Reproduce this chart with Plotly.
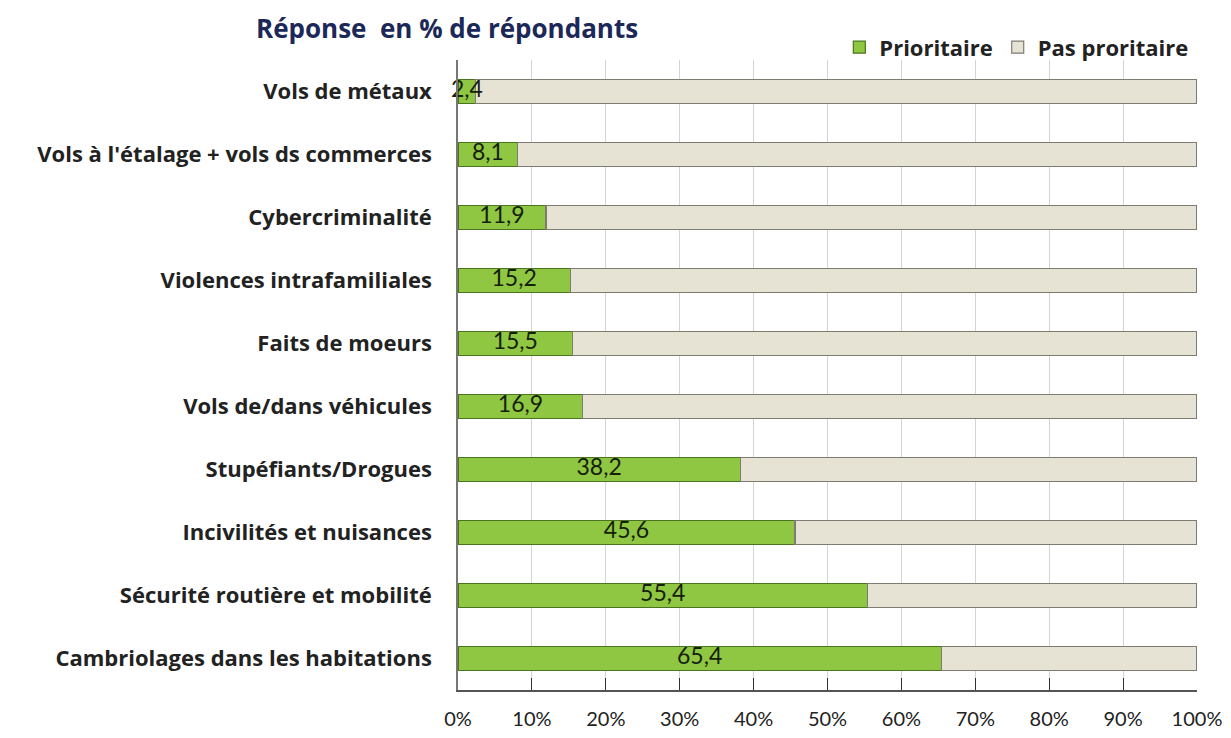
import plotly.graph_objects as go

categories = ["Vols de métaux",
              "Vols à l'étalage + vols ds commerces",
              "Cybercriminalité",
              "Violences intrafamiliales",
              "Faits de moeurs",
              "Vols de/dans véhicules",
              "Stupéfiants/Drogues",
              "Incivilités et nuisances",
              "Sécurité routière et mobilité",
              "Cambriolages dans les habitations"]
prioritaire = [2.4, 8.1, 11.9, 15.2, 15.5, 16.9, 38.2, 45.6, 55.4, 65.4]
pas_prioritaire = [round(100 - v, 1) for v in prioritaire]
labels = ["2,4", "8,1", "11,9", "15,2", "15,5", "16,9", "38,2", "45,6", "55,4", "65,4"]
tick_vals = [0, 10, 20, 30, 40, 50, 60, 70, 80, 90, 100]
tick_text = ["0%", "10%", "20%", "30%", "40%", "50%", "60%", "70%", "80%", "90%", "100%"]

fig = go.Figure()
fig.add_trace(go.Bar(y=categories, x=prioritaire, orientation="h",
                     name="Prioritaire",
                     marker=dict(color="#8FC743", line=dict(color="#4A7420", width=1.2)),
                     hoverinfo="skip"))
fig.add_trace(go.Bar(y=categories, x=pas_prioritaire, orientation="h",
                     name="Pas proritaire",
                     marker=dict(color="#E6E2D4", line=dict(color="#7E7C72", width=1.2)),
                     hoverinfo="skip"))
# value labels centred in the green segment
fig.add_trace(go.Scatter(y=categories, x=[v / 2 for v in prioritaire], text=labels,
                         mode="text", textposition="middle center",
                         textfont=dict(family="Lato", size=23, color="#15200C"),
                         showlegend=False, hoverinfo="skip", cliponaxis=False))

fig.update_layout(
    barmode="stack",
    bargap=0.62,
    width=1231, height=738,
    margin=dict(l=450, r=42, t=52, b=56),
    plot_bgcolor="white", paper_bgcolor="white",
    font=dict(family="Lato", color="#222222"),
    showlegend=True,
    legend=dict(orientation="h", x=0.516, y=1.02, xanchor="left", yanchor="middle",
                font=dict(size=22, family="Open Sans", color="#222222", weight="bold"),
                itemwidth=30, traceorder="normal", bgcolor="rgba(0,0,0,0)"),
    annotations=[dict(text="<b>Réponse  en % de répondants</b>", xref="paper", yref="paper",
                      x=-0.276, y=1.05, xanchor="left", yanchor="middle", showarrow=False,
                      font=dict(size=26, family="Open Sans", color="#1B2858"))],
)
fig.update_xaxes(range=[0, 100], tickvals=tick_vals, ticktext=tick_text,
                 showgrid=True, gridcolor="#D3D3DA", gridwidth=1,
                 showline=True, linecolor="#555555", linewidth=1.5,
                 ticks="inside", ticklen=12, tickcolor="#333333",
                 ticklabelstandoff=10, tickfont=dict(size=20, color="#222222"),
                 zeroline=False, fixedrange=True)
fig.update_yaxes(autorange="reversed", showline=True, linecolor="#777777", linewidth=1.5,
                 ticks="", ticklabelstandoff=20,
                 tickfont=dict(size=22, family="Open Sans", color="#222222", weight="bold"),
                 fixedrange=True)

fig.write_html("out.html")
